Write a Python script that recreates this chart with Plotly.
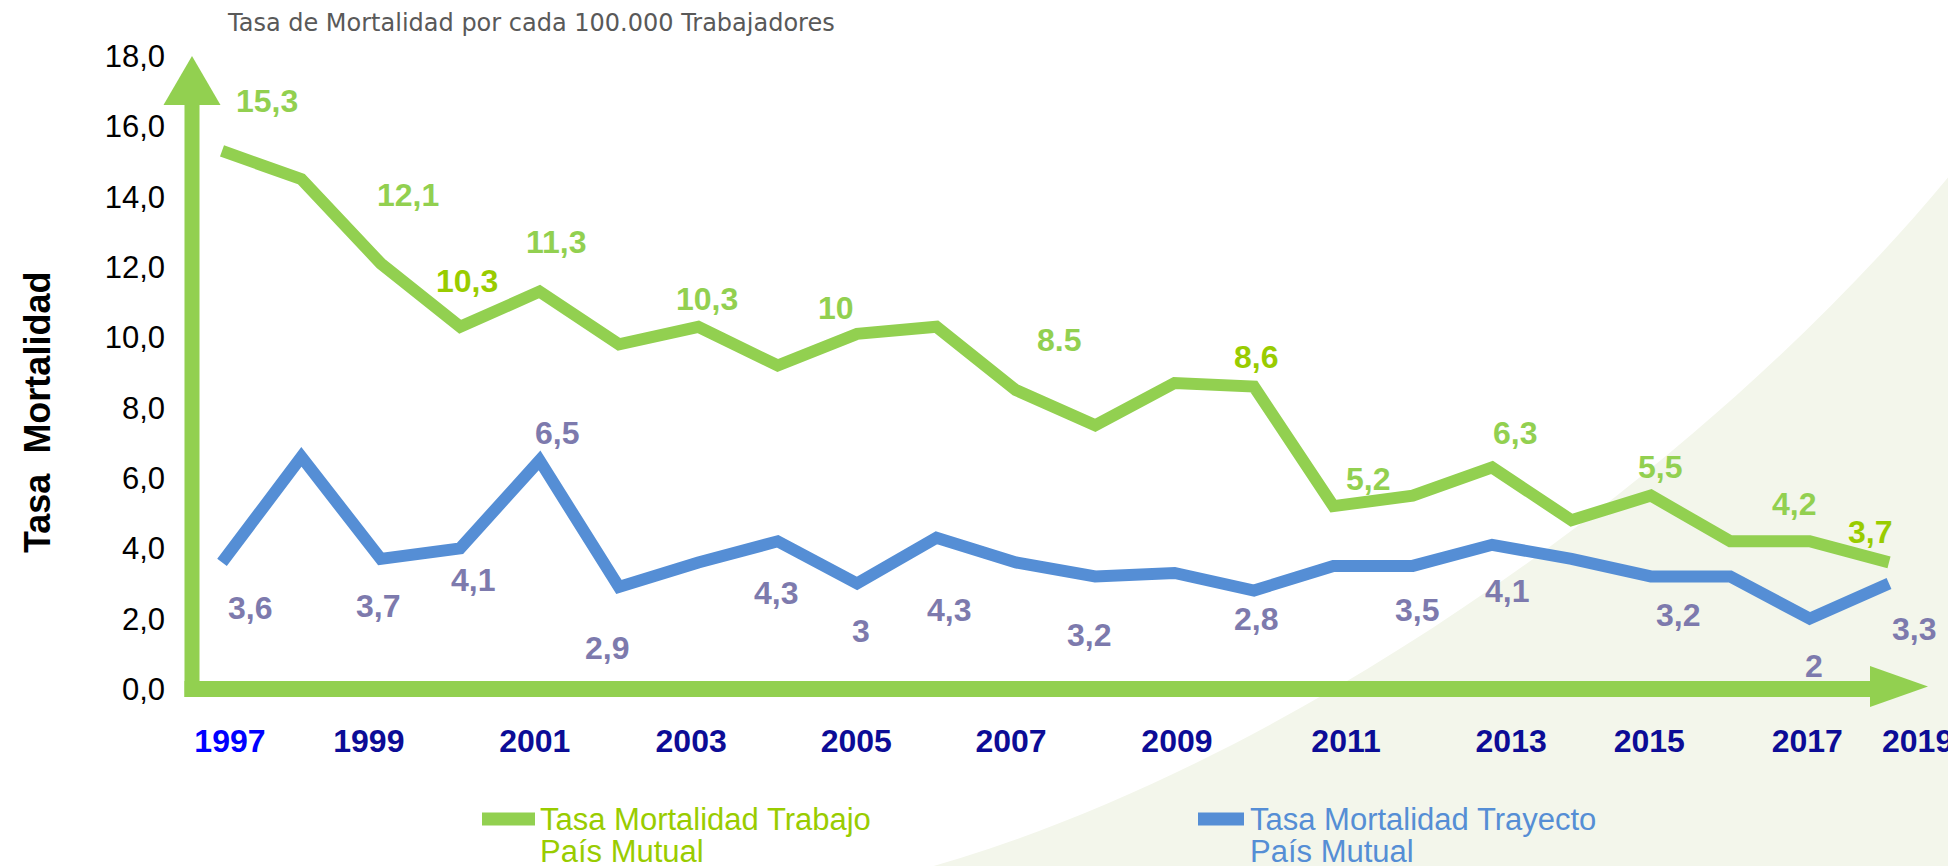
import plotly.graph_objects as go

# ---------------- data ----------------
years = list(range(1997, 2019))
trabajo = [15.3, 14.5, 12.1, 10.3, 11.3, 9.8, 10.3, 9.2, 10.1, 10.3, 8.5,
           7.5, 8.7, 8.6, 5.2, 5.5, 6.3, 4.8, 5.5, 4.2, 4.2, 3.6]
trayecto = [3.6, 6.6, 3.7, 4.0, 6.5, 2.9, 3.6, 4.2, 3.0, 4.3, 3.6,
            3.2, 3.3, 2.8, 3.5, 3.5, 4.1, 3.7, 3.2, 3.2, 2.0, 3.0]

trabajo_label_years = [1997, 1999, 2000, 2001, 2003, 2005, 2007, 2010, 2011, 2013, 2015, 2017, 2018]
trabajo_label_text = ["15,3", "12,1", "10,3", "11,3", "10,3", "10", "8.5", "8,6", "5,2", "6,3", "5,5", "4,2", "3,7"]
trayecto_label_years = [1997, 1999, 2000, 2001, 2002, 2004, 2005, 2006, 2008, 2010, 2012, 2013, 2015, 2017, 2018]
trayecto_label_text = ["3,6", "3,7", "4,1", "6,5", "2,9", "4,3", "3", "4,3", "3,2", "2,8", "3,5", "4,1", "3,2", "2", "3,3"]

x_tick_labels = ["1997", "1999", "2001", "2003", "2005", "2007", "2009", "2011", "2013", "2015", "2017", "2019"]
y_tick_values = [0, 2, 4, 6, 8, 10, 12, 14, 16, 18]
y_tick_labels = ["0,0", "2,0", "4,0", "6,0", "8,0", "10,0", "12,0", "14,0", "16,0", "18,0"]

title_text = "Tasa de Mortalidad por cada 100.000 Trabajadores"
y_title = "Tasa  Mortalidad"
name_trabajo = ["Tasa Mortalidad Trabajo", "País Mutual"]
name_trayecto = ["Tasa Mortalidad Trayecto", "País Mutual"]

# ---------------- styling / placement ----------------
GREEN = "#92D050"
GREEN_DARK = "#99CC00"
BLUE = "#558ED5"
LABEL_PURPLE = "#7D7AAD"
NAVY = "#0C0C96"

W, H = 1956, 866
ML, MR, MT, MB = 184, 38, 48, 185


def px(x):
    return (x - ML) / (W - ML - MR)


def py(y):
    return (H - MB - y) / (H - MT - MB)


# label offsets (dx in years, dy in value units) relative to the labelled point
trabajo_offsets = [(.57, 1.42), (.34, 1.95), (.08, 1.3), (.22, 1.4), (.11, .8), (-.26, .73),
                   (.55, 1.43), (.03, .84), (.44, .77), (.29, .98), (.11, .81), (-.2, 1.06), (-.24, .86)]
trabajo_dark = {2000, 2010, 2018}
trayecto_offsets = [(.35, -1.3), (-.04, -1.34), (.16, -.9), (.22, .78), (-.15, -1.73), (-.02, -1.47),
                    (.05, -1.35), (.16, -2.05), (-.08, -1.66), (.03, -.81), (.06, -1.25), (.19, -1.32),
                    (.34, -1.1), (.05, -1.35), (.32, -1.29)]

fig = go.Figure()
fig.add_trace(go.Scatter(x=years, y=trabajo, mode="lines", name=" ".join(name_trabajo),
                         line=dict(color=GREEN, width=12), showlegend=False, cliponaxis=False))
fig.add_trace(go.Scatter(x=years, y=trayecto, mode="lines", name=" ".join(name_trayecto),
                         line=dict(color=BLUE, width=12), showlegend=False, cliponaxis=False))

annotations = []
val_t = dict(zip(years, trabajo))
for yr, txt, (dx, dy) in zip(trabajo_label_years, trabajo_label_text, trabajo_offsets):
    annotations.append(dict(x=yr + dx, y=val_t[yr] + dy, xref="x", yref="y", text="<b>" + txt + "</b>",
                            showarrow=False,
                            font=dict(family="Liberation Sans", size=32,
                                      color=GREEN_DARK if yr in trabajo_dark else GREEN)))
val_b = dict(zip(years, trayecto))
for yr, txt, (dx, dy) in zip(trayecto_label_years, trayecto_label_text, trayecto_offsets):
    annotations.append(dict(x=yr + dx, y=val_b[yr] + dy, xref="x", yref="y", text="<b>" + txt + "</b>",
                            showarrow=False,
                            font=dict(family="Liberation Sans", size=32, color=LABEL_PURPLE)))

# title
annotations.append(dict(x=px(217), y=py(15), xref="paper", yref="paper", xanchor="left", yanchor="middle",
                        text=title_text, showarrow=False,
                        font=dict(family="DejaVu Sans", size=24, color="#595959")))
# y axis title
annotations.append(dict(x=px(30), y=py(405), xref="paper", yref="paper", xanchor="center", yanchor="middle",
                        text="<b>" + y_title + "</b>", textangle=-90, showarrow=False,
                        font=dict(family="Liberation Sans", size=36, color="#000000")))
# legend texts
for i, line in enumerate(name_trabajo):
    annotations.append(dict(x=px(530), y=py(811 + 32 * i), xref="paper", yref="paper", xanchor="left",
                            yanchor="middle", text=line, showarrow=False,
                            font=dict(family="Liberation Sans", size=31, color=GREEN_DARK)))
for i, line in enumerate(name_trayecto):
    annotations.append(dict(x=px(1240), y=py(811 + 32 * i), xref="paper", yref="paper", xanchor="left",
                            yanchor="middle", text=line, showarrow=False,
                            font=dict(family="Liberation Sans", size=31, color=BLUE)))


def path(points, close=True):
    s = "M " + " L ".join(f"{px(x):.5f},{py(y):.5f}" for x, y in points)
    return s + (" Z" if close else "")


swoosh = (f"M {px(880):.5f},{py(870):.5f} C {px(1250):.5f},{py(780):.5f} {px(1700):.5f},{py(470):.5f} "
          f"{px(1960):.5f},{py(145):.5f} L {px(1960):.5f},{py(870):.5f} Z")

shapes = [
    dict(type="path", xref="paper", yref="paper", path=swoosh, fillcolor="#F3F6EB", line=dict(width=0), layer="below"),
    # y axis bar + arrow head
    dict(type="path", xref="paper", yref="paper", layer="below", fillcolor=GREEN, line=dict(width=0),
         path=path([(176.5, 689), (191.5, 689), (191.5, 95), (176.5, 95)])),
    dict(type="path", xref="paper", yref="paper", layer="below", fillcolor=GREEN, line=dict(width=0),
         path=path([(155.5, 97), (212.5, 97), (184, 48)])),
    # x axis bar + arrow head
    dict(type="path", xref="paper", yref="paper", layer="below", fillcolor=GREEN, line=dict(width=0),
         path=path([(176.5, 673), (1864, 673), (1864, 689), (176.5, 689)])),
    dict(type="path", xref="paper", yref="paper", layer="below", fillcolor=GREEN, line=dict(width=0),
         path=path([(1862, 658), (1862, 699), (1920, 678.5)])),
    # legend swatches
    dict(type="line", xref="paper", yref="paper", x0=px(474), x1=px(527), y0=py(811), y1=py(811),
         line=dict(color=GREEN, width=13)),
    dict(type="line", xref="paper", yref="paper", x0=px(1190), x1=px(1236), y0=py(811), y1=py(811),
         line=dict(color=BLUE, width=13)),
]

x_tick_vals = [1997.10, 1998.85, 2000.94, 2002.91, 2004.99, 2006.94, 2009.03, 2011.16, 2013.24,
               2014.98, 2016.97, 2018.36]
x_tick_text = [f"<span style='color:#0000FF'>{t}</span>" if t == "1997" else t for t in x_tick_labels]

fig.update_layout(
    width=W, height=H,
    margin=dict(l=ML, r=MR, t=MT, b=MB, pad=0),
    paper_bgcolor="white", plot_bgcolor="rgba(0,0,0,0)",
    showlegend=False,
    annotations=annotations,
    shapes=shapes,
    xaxis=dict(range=[1996.622, 2018.466], showgrid=False, zeroline=False, showline=False,
               tickmode="array", tickvals=x_tick_vals, ticktext=x_tick_text, ticks="",
               ticklabelstandoff=30,
               tickfont=dict(family="Liberation Sans", size=32, color=NAVY, weight="bold")),
    yaxis=dict(range=[0, 18], showgrid=False, zeroline=False, showline=False,
               tickmode="array", tickvals=y_tick_values, ticktext=y_tick_labels, ticks="",
               ticklabelstandoff=26,
               tickfont=dict(family="Liberation Sans", size=31, color="#000000")),
)

fig.write_html("out.html")
